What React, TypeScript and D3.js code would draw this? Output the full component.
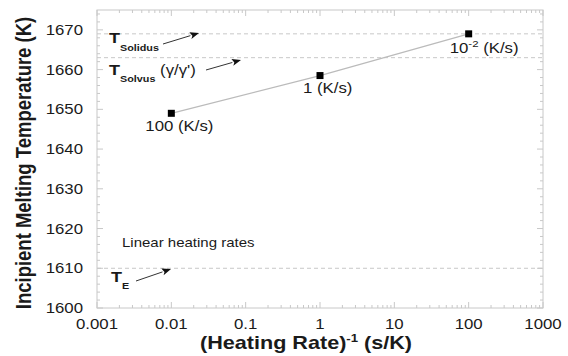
import React from "react";
import * as d3 from "d3";

const rates = ["100 (K/s)", "1 (K/s)", "10^-2 (K/s)"];
const invRate = [0.01, 1, 100];
const meltTemp = [1649, 1658.5, 1669];
const xTickValues = [0.001, 0.01, 0.1, 1, 10, 100, 1000];
const xTickLabels = ["0.001", "0.01", "0.1", "1", "10", "100", "1000"];
const yTickValues = [1600, 1610, 1620, 1630, 1640, 1650, 1660, 1670];
const refNames = ["Solidus", "Solvus", "E"];
const refTemps = [1669, 1663, 1610];

const W = 568, H = 356;
const m = { left: 97, right: 25, top: 10, bottom: 48 };
const FONT = "'Liberation Sans', Arial, sans-serif";
const GRID = "#c8c8c8";
const SX = 1.2;

function ST(props: { x: number; y: number; anchor?: string; size: number; bold?: boolean; children: React.ReactNode }) {
  return (
    <text
      transform={`translate(${props.x},${props.y}) scale(${SX},1)`}
      textAnchor={props.anchor || "start"}
      fontSize={props.size}
      fontWeight={props.bold ? "bold" : "normal"}
      fill="#1a1a1a"
    >
      {props.children}
    </text>
  );
}

export default function App() {
  const x = d3.scaleLog().domain([0.001, 1000]).range([m.left, W - m.right]);
  const y = d3.scaleLinear().domain([1600, 1675]).range([H - m.bottom, m.top]);
  const x0 = m.left, x1 = W - m.right, y0 = H - m.bottom, y1 = m.top;

  const minorX: number[] = [];
  for (let e = -3; e < 3; e++) for (let k = 2; k <= 9; k++) minorX.push(k * Math.pow(10, e));
  const minorY: number[] = d3.range(1600, 1676, 2).filter((v) => v % 10 !== 0);

  const line = d3.line<number>().x((_, i) => x(invRate[i])).y((d) => y(d));

  const labelOffsets = [
    { dx: -26, dy: 18 },
    { dx: -17, dy: 17 },
    { dx: -19, dy: 19 },
  ];

  const arrow = (xa: number, ya: number, xb: number, yb: number, key: string) => {
    const ang = Math.atan2(yb - ya, xb - xa);
    const L = 9, Wd = 3.5;
    const bx = xb - L * Math.cos(ang), by = yb - L * Math.sin(ang);
    const px = -Math.sin(ang) * Wd, py = Math.cos(ang) * Wd;
    return (
      <g key={key}>
        <line x1={xa} y1={ya} x2={bx} y2={by} stroke="#333" strokeWidth={1} />
        <path d={`M${xb},${yb}L${bx + px},${by + py}L${bx + 2},${by}L${bx - px},${by - py}Z`} fill="#111" />
      </g>
    );
  };

  return (
    <svg width={W} height={H} style={{ position: "absolute", left: 0, top: 0, background: "#fff" }} fontFamily={FONT}>
      {refTemps.map((t, i) => (
        <line key={"ref" + i} x1={x0} x2={x1} y1={y(t)} y2={y(t)} stroke={GRID} strokeWidth={1} strokeDasharray="4,3" />
      ))}
      <rect x={x0} y={y1} width={x1 - x0} height={y0 - y1} fill="none" stroke={GRID} strokeWidth={1} />
      {xTickValues.map((v, i) => (
        <g key={"xt" + i}>
          <line x1={x(v)} x2={x(v)} y1={y0} y2={y0 - 6} stroke={GRID} />
          <line x1={x(v)} x2={x(v)} y1={y1} y2={y1 + 6} stroke={GRID} />
          <ST x={x(v)} y={y0 + 21} anchor="middle" size={14}>{xTickLabels[i]}</ST>
        </g>
      ))}
      {minorX.map((v, i) => (
        <g key={"xm" + i}>
          <line x1={x(v)} x2={x(v)} y1={y0} y2={y0 - 3} stroke={GRID} />
          <line x1={x(v)} x2={x(v)} y1={y1} y2={y1 + 3} stroke={GRID} />
        </g>
      ))}
      {yTickValues.map((v, i) => (
        <g key={"yt" + i}>
          <line x1={x0} x2={x0 + 6} y1={y(v)} y2={y(v)} stroke={GRID} />
          <line x1={x1} x2={x1 - 6} y1={y(v)} y2={y(v)} stroke={GRID} />
          <ST x={x0 - 14} y={y(v) + 5} anchor="end" size={14}>{v}</ST>
        </g>
      ))}
      {minorY.map((v, i) => (
        <g key={"ym" + i}>
          <line x1={x0} x2={x0 + 3} y1={y(v)} y2={y(v)} stroke={GRID} />
          <line x1={x1} x2={x1 - 3} y1={y(v)} y2={y(v)} stroke={GRID} />
        </g>
      ))}
      <path d={line(meltTemp) || ""} fill="none" stroke="#bbb" strokeWidth={1.2} />
      {meltTemp.map((t, i) => (
        <rect key={"pt" + i} x={x(invRate[i]) - 3.5} y={y(t) - 3.5} width={7} height={7} fill="#000" />
      ))}
      {rates.map((r, i) => {
        const px = x(invRate[i]) + labelOffsets[i].dx;
        const py = y(meltTemp[i]) + labelOffsets[i].dy;
        if (r.startsWith("10^")) {
          return (
            <ST key={"lb" + i} x={px} y={py} size={14}>
              10<tspan dy={-6} fontSize={9.5}>-2</tspan><tspan dy={6}> (K/s)</tspan>
            </ST>
          );
        }
        return <ST key={"lb" + i} x={px} y={py} size={14}>{r}</ST>;
      })}
      <ST x={109} y={43} size={15} bold>
        T<tspan dy={8} fontSize={9}>{refNames[0]}</tspan>
      </ST>
      {arrow(163, 44, 199, 33, "a1")}
      <ST x={109} y={75} size={15} bold>
        T<tspan dy={7} fontSize={9}>{refNames[1]}</tspan><tspan dy={-7} fontSize={14} fontWeight="normal"> (γ/γ')</tspan>
      </ST>
      {arrow(206, 70, 241, 60, "a2")}
      <ST x={122} y={247} size={12.5}>Linear heating rates</ST>
      <ST x={111} y={282} size={15} bold>
        T<tspan dy={7} fontSize={9}>{refNames[2]}</tspan>
      </ST>
      {arrow(136, 281, 171, 269, "a3")}
      <text
        transform={`translate(31,${(y0 + y1) / 2 + 4}) rotate(-90) scale(1,${SX})`}
        textAnchor="middle"
        fontSize={18.5}
        fontWeight="bold"
        fill="#1a1a1a"
      >
        Incipient Melting Temperature (K)
      </text>
      <ST x={(x0 + x1) / 2 - 14} y={y0 + 41} anchor="middle" size={18} bold>
        (Heating Rate)<tspan dy={-7} fontSize={11}>-1</tspan><tspan dy={7}> (s/K)</tspan>
      </ST>
    </svg>
  );
}
